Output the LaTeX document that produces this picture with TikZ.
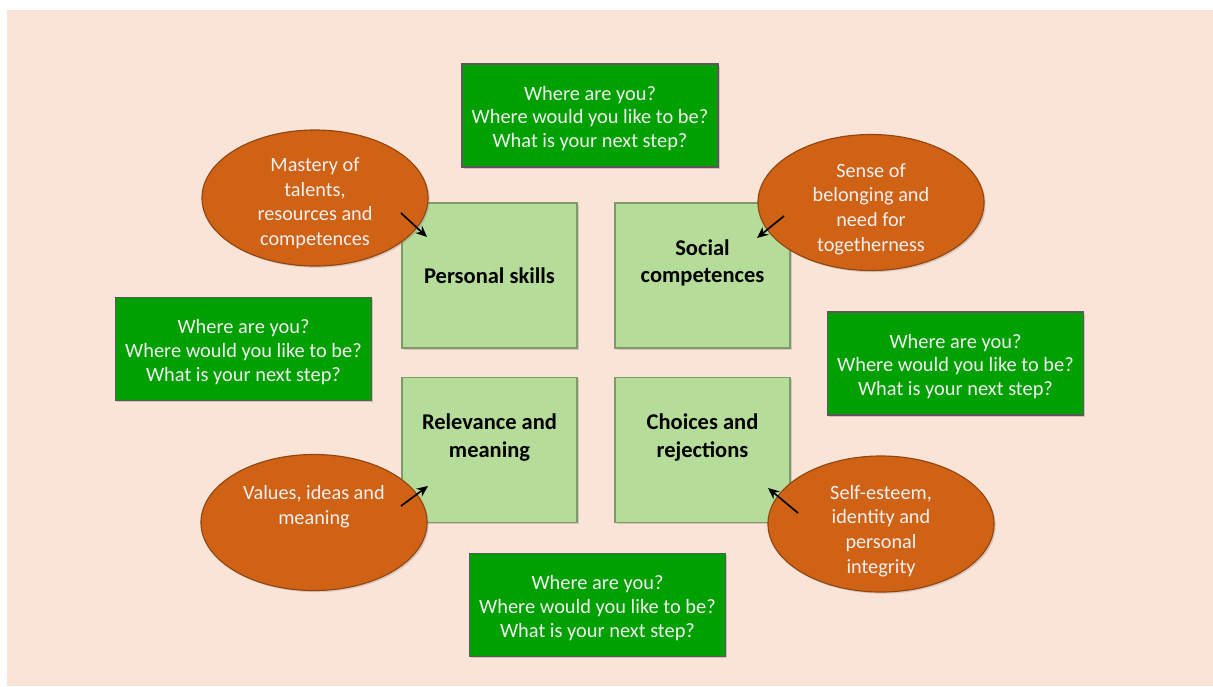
\documentclass[tikz,border=0pt]{standalone}
\usepackage{fontspec}
\setmainfont{Carlito}
\usetikzlibrary{shapes.geometric,arrows.meta,shadows}
\definecolor{peach}{RGB}{250,228,215}
\definecolor{boxgreen}{RGB}{0,160,0}
\definecolor{palegreen}{RGB}{181,220,152}
\definecolor{rust}{RGB}{208,98,22}
\tikzset{
	question/.style={draw=black!65, fill=boxgreen, thick, minimum width=6.4cm, minimum height=2.575cm,
		drop shadow={opacity=.35, shadow xshift=1.2pt, shadow yshift=-1.2pt}},
	questiontext/.style={align=center, text=black!6, font=\fontsize{14.5}{17}\selectfont},
	topic/.style={draw=black!30!palegreen, fill=palegreen, thick, minimum width=4.375cm, minimum height=3.625cm,
		drop shadow={opacity=.3, shadow xshift=1.2pt, shadow yshift=-1.2pt}},
	topictext/.style={align=center, font=\fontsize{16}{19.3}\selectfont\bfseries},
	value/.style={ellipse, draw=black!30!rust, fill=rust, thick, minimum width=5.65cm, minimum height=3.4cm,
		drop shadow={opacity=.3, shadow xshift=1.2pt, shadow yshift=-1.2pt}},
	valuetext/.style={align=center, text=black!6, font=\fontsize{14.4}{17.5}\selectfont},
}
\begin{document}
\begin{tikzpicture}[x=0.025cm, y=-0.025cm]
	\useasboundingbox (0,0) rectangle (1213,686);
	\fill [peach] (7,10) rectangle (1213,686);

	% four topics
	\node [topic] (ps) at (489.5,275.5) {};
	\node [topic] (sc) at (702.5,275.5) {};
	\node [topic] (rm) at (489.5,450) {};
	\node [topic] (cr) at (702.5,450) {};
	\node [topictext] (pst) at (489.5,276) {Personal skills};
	\node [topictext] (sct) at (702.5,263) {Social\\competences};
	\node [topictext] (rmt) at (489.5,437.5) {Relevance and\\meaning};
	\node [topictext] (crt) at (702.5,437.5) {Choices and\\rejections};

	% questions
	\foreach \n/\x/\y in {qt/590/115.5, ql/243.5/349, qr/955.5/363.5, qb/597.5/605} {
		\node [question] (\n) at (\x,\y) {};
		\node [questiontext] (\n t) at (\x,\y+3) {Where are you?\\Where would you like to be?\\What is your next step?};
	}

	% values
	\node [value] (mt) at (315,198) {};
	\node [value] (sb) at (871,202.5) {};
	\node [value] (vi) at (314,522.5) {};
	\node [value] (se) at (881,524) {};
	\node [valuetext] (mtt) at (315,203) {Mastery of\\talents,\\resources and\\competences};
	\node [valuetext] (sbt) at (871,209) {Sense of\\belonging and\\need for\\togetherness};
	\node [valuetext] (vit) at (314,506.5) {Values, ideas and\\meaning};
	\node [valuetext] (set) at (881,531) {Self-esteem,\\identity and\\personal\\integrity};

	\coordinate (mt-a) at (401,213);
	\coordinate (ps-a) at (427,237);
	\coordinate (sb-a) at (784,216);
	\coordinate (sc-a) at (757,238);
	\coordinate (vi-a) at (401,506);
	\coordinate (rm-a) at (428,486);
	\coordinate (se-a) at (798,513);
	\coordinate (cr-a) at (768,488);
	\foreach \a/\b in {mt-a/ps-a, sb-a/sc-a, vi-a/rm-a, se-a/cr-a} {
		\draw [very thick, -{Stealth[length=8pt,width=7pt]}] (\a) -- (\b);
	}
\end{tikzpicture}
\end{document}
